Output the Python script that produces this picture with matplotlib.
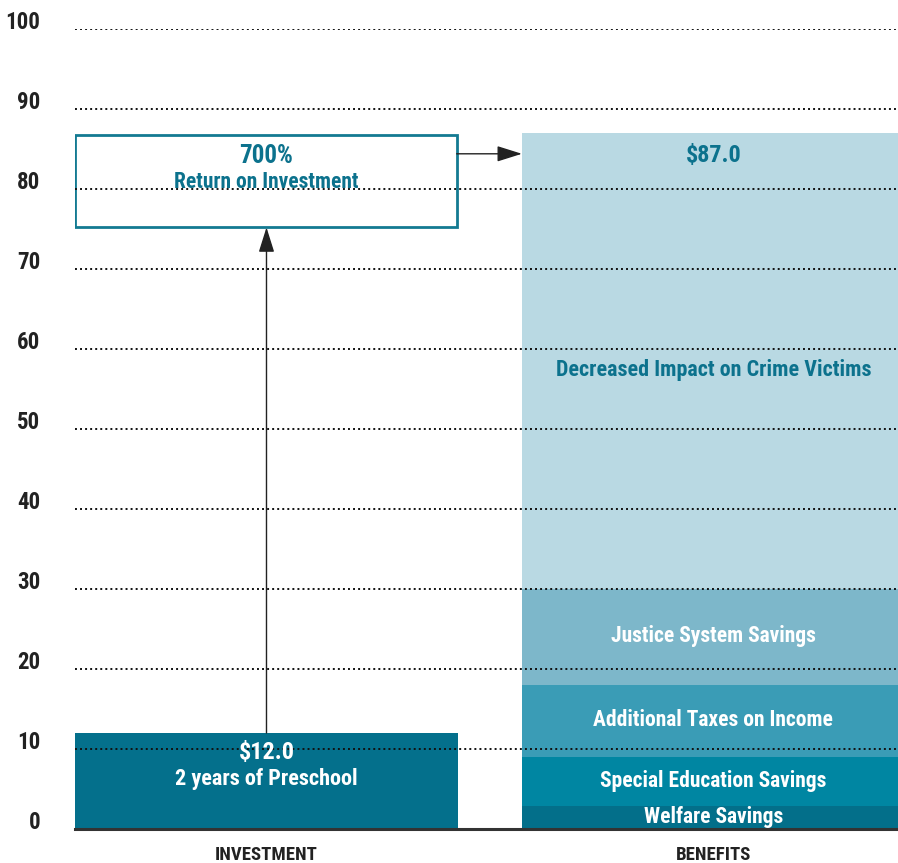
import numpy as np
import matplotlib.pyplot as plt
from matplotlib.patches import Rectangle

plt.rcParams['font.family'] = ['Liberation Sans Narrow', 'Roboto Condensed', 'DejaVu Sans']
plt.rcParams['font.stretch'] = 'condensed'
plt.rcParams['font.weight'] = 'bold'

# Cost per child vs. benefits (thousands of dollars)
groups = ['INVESTMENT', 'BENEFITS']
investment = 12.0
benefit_names = ['Welfare Savings', 'Special Education Savings',
                 'Additional Taxes on Income', 'Justice System Savings',
                 'Decreased Impact on Crime Victims']
benefit_values = [2.9, 6.1, 9.0, 12.0, 57.0]
benefit_colors = ['#036f8a', '#0086a2', '#3a9cb6', '#7db7ca', '#b9d9e3']
total = sum(benefit_values)
roi_pct = 700
yticks = list(range(0, 101, 10))

teal = '#0c728d'
width = 0.857

fig = plt.figure(figsize=(8.98, 8.63), dpi=100)
ax = fig.add_axes([0.0835, 0.0394, 0.9165, 0.927])

# investment bar
ax.bar(0, investment, width=width, color='#04708c', zorder=2)
ax.text(0, investment - 2.4, f'${investment:.1f}', color='white', fontsize=17.5,
        ha='center', va='center', zorder=5)
ax.text(0, investment - 5.8, '2 years of Preschool', color='white', fontsize=16,
        ha='center', va='center', zorder=5)

# stacked benefits bar
bottom = 0
for name, val, col in zip(benefit_names, benefit_values, benefit_colors):
    ax.bar(1, val, width=width, bottom=bottom, color=col, zorder=2)
    if name.startswith('Decreased'):
        ax.text(1, 57.4, name, color=teal, fontsize=15.8, ha='center', va='center', zorder=5)
    else:
        ax.text(1, bottom + val / 2 + 0.1, name, color='white', fontsize=15.5,
                ha='center', va='center', zorder=5)
    bottom += val
ax.text(1, total - 2.8, f'${total:.1f}', color=teal, fontsize=17.5,
        ha='center', va='center', zorder=5)

# return on investment box
box_lo, box_hi = 75.2, 86.8
ax.add_patch(Rectangle((-width / 2, box_lo), width - 0.003, box_hi - box_lo,
                       facecolor='white', edgecolor='#137a92', lw=2, zorder=3))
ax.text(0, 84.1, f'{roi_pct}%', color=teal, fontsize=18, ha='center', va='center', zorder=5)
ax.text(0, 80.9, 'Return on Investment', color=teal, fontsize=15.5,
        ha='center', va='center', zorder=5)

# arrows
ax.annotate('', xy=(0, box_lo), xytext=(0, investment),
            arrowprops=dict(arrowstyle='-|>,head_length=0.7,head_width=0.22',
                            color='#222222', lw=1,
                            mutation_scale=22, shrinkA=0, shrinkB=0), zorder=4)
ax.annotate('', xy=(1 - width / 2, 84.4), xytext=(width / 2 - 0.003, 84.4),
            arrowprops=dict(arrowstyle='-|>,head_length=0.7,head_width=0.22',
                            color='#222222', lw=1,
                            mutation_scale=22, shrinkA=0, shrinkB=0), zorder=4)

# dotted grid on top of the bars
for y in yticks[1:]:
    ax.axhline(y, color='#111111', lw=1.4, ls=(0, (1, 1.6)), zorder=3.5)

ax.set_xlim(-width / 2, 1.413)
ax.set_ylim(0, 100)
ax.set_yticks(yticks)
ax.set_yticklabels([str(t) for t in yticks], fontsize=16.5, color='#222222')
ax.tick_params(axis='y', length=0, pad=25)
for lab in ax.get_yticklabels():
    lab.set_va('baseline')
ax.set_xticks([0, 1])
ax.set_xticklabels(groups, fontsize=13.5, color='#222222')
ax.tick_params(axis='x', length=0, pad=12)
for s in ['top', 'right', 'left']:
    ax.spines[s].set_visible(False)
ax.spines['bottom'].set_linewidth(2.2)
ax.spines['bottom'].set_color('#333333')
ax.spines['bottom'].set_zorder(6)

fig.savefig('out.png', dpi=100)
